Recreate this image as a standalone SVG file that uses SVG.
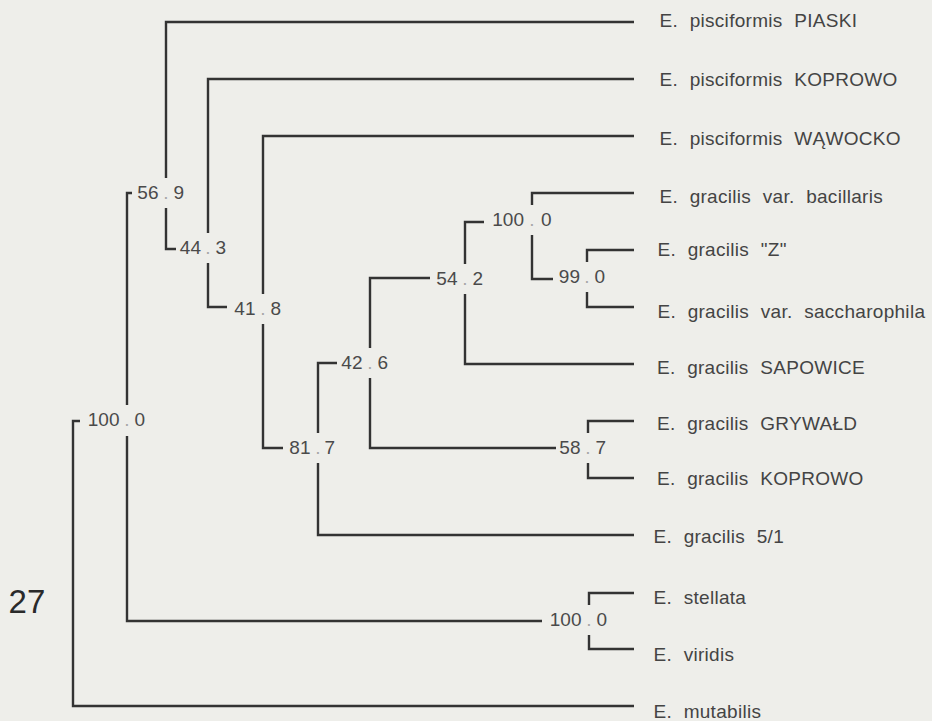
<svg xmlns="http://www.w3.org/2000/svg" width="932" height="721" viewBox="0 0 932 721">
<style>
.bg{fill:#eeeeea}
.ln{stroke:#333333;stroke-width:2.4;fill:none;stroke-linejoin:miter;stroke-linecap:butt}
.leaf{font-family:"Liberation Sans",Arial,sans-serif;font-size:19px;fill:#444444;letter-spacing:0.3px;word-spacing:6px}
.num{font-family:"Liberation Sans",Arial,sans-serif;font-size:19px;fill:#4a4a4a}
.l{text-anchor:end}
.dot{text-anchor:middle;fill:#a8a8a8}
.big{font-family:"Liberation Sans",Arial,sans-serif;font-size:33px;fill:#2a2a2a}
</style>
<rect class="bg" x="0" y="0" width="932" height="721"/>
<g id="connectors">
<path class="ln" d="M80,421 H73 V706 H634"/>
<path class="ln" d="M132,193 H127 V405 M127,436 V621 H542"/>
<path class="ln" d="M634,22 H166 V178 M166,208 V249 H176"/>
<path class="ln" d="M634,79 H208 V233 M208,263 V307 H227"/>
<path class="ln" d="M634,136 H263 V294 M263,324 V448 H283"/>
<path class="ln" d="M337,363 H318 V433 M318,463 V535 H634"/>
<path class="ln" d="M430,278 H370 V348 M370,378 V448 H556"/>
<path class="ln" d="M484,222 H465 V264 M465,294 V364 H634"/>
<path class="ln" d="M634,193 H532 V205 M532,235 V279 H553"/>
<path class="ln" d="M634,250 H587 V262 M587,292 V307 H634"/>
<path class="ln" d="M634,421 H588 V433 M588,463 V478 H634"/>
<path class="ln" d="M634,593 H589 V605 M589,635 V649 H634"/>
</g>
<g id="node-A" class="num"><text class="l" x="119.5" y="426.3">100</text><text class="dot" x="127" y="426.3">.</text><text x="134.5" y="426.3">0</text></g>
<g id="node-B" class="num"><text class="l" x="158.5" y="198.8">56</text><text class="dot" x="166" y="198.8">.</text><text x="173.5" y="198.8">9</text></g>
<g id="node-C" class="num"><text class="l" x="201" y="253.8">44</text><text class="dot" x="208" y="253.8">.</text><text x="215.5" y="253.8">3</text></g>
<g id="node-D" class="num"><text class="l" x="255.5" y="315">41</text><text class="dot" x="263" y="315">.</text><text x="270.5" y="315">8</text></g>
<g id="node-E" class="num"><text class="l" x="310.5" y="453.8">81</text><text class="dot" x="318" y="453.8">.</text><text x="324.5" y="453.8">7</text></g>
<g id="node-F" class="num"><text class="l" x="362.5" y="368.8">42</text><text class="dot" x="370" y="368.8">.</text><text x="377.5" y="368.8">6</text></g>
<g id="node-G" class="num"><text class="l" x="457.5" y="285">54</text><text class="dot" x="465" y="285">.</text><text x="472.5" y="285">2</text></g>
<g id="node-I" class="num"><text class="l" x="524" y="225.5">100</text><text class="dot" x="532" y="225.5">.</text><text x="541" y="225.5">0</text></g>
<g id="node-J" class="num"><text class="l" x="580" y="283">99</text><text class="dot" x="587" y="283">.</text><text x="594.5" y="283">0</text></g>
<g id="node-H" class="num"><text class="l" x="580.5" y="453.8">58</text><text class="dot" x="588" y="453.8">.</text><text x="595.5" y="453.8">7</text></g>
<g id="node-K" class="num"><text class="l" x="581.5" y="625.6">100</text><text class="dot" x="589" y="625.6">.</text><text x="596.5" y="625.6">0</text></g>
<g id="leaf-1"><text class="leaf" x="659.5" y="27">E. pisciformis PIASKI</text></g>
<g id="leaf-2"><text class="leaf" x="659.5" y="85.5">E. pisciformis KOPROWO</text></g>
<g id="leaf-3"><text class="leaf" x="659.5" y="144.5">E. pisciformis WĄWOCKO</text></g>
<g id="leaf-4"><text class="leaf" x="659.5" y="202.5">E. gracilis var. bacillaris</text></g>
<g id="leaf-5"><text class="leaf" x="657.5" y="256">E. gracilis "Z"</text></g>
<g id="leaf-6"><text class="leaf" x="657.5" y="318">E. gracilis var. saccharophila</text></g>
<g id="leaf-7"><text class="leaf" x="657" y="373.5">E. gracilis SAPOWICE</text></g>
<g id="leaf-8"><text class="leaf" x="657" y="429.5">E. gracilis GRYWAŁD</text></g>
<g id="leaf-9"><text class="leaf" x="657" y="484.5">E. gracilis KOPROWO</text></g>
<g id="leaf-10"><text class="leaf" x="653.5" y="543">E. gracilis 5/1</text></g>
<g id="leaf-11"><text class="leaf" x="653.5" y="603.5">E. stellata</text></g>
<g id="leaf-12"><text class="leaf" x="653.5" y="661">E. viridis</text></g>
<g id="leaf-13"><text class="leaf" x="653.5" y="717.5">E. mutabilis</text></g>
<g id="figure-number"><text class="big" x="8.6" y="613">27</text></g>
</svg>
